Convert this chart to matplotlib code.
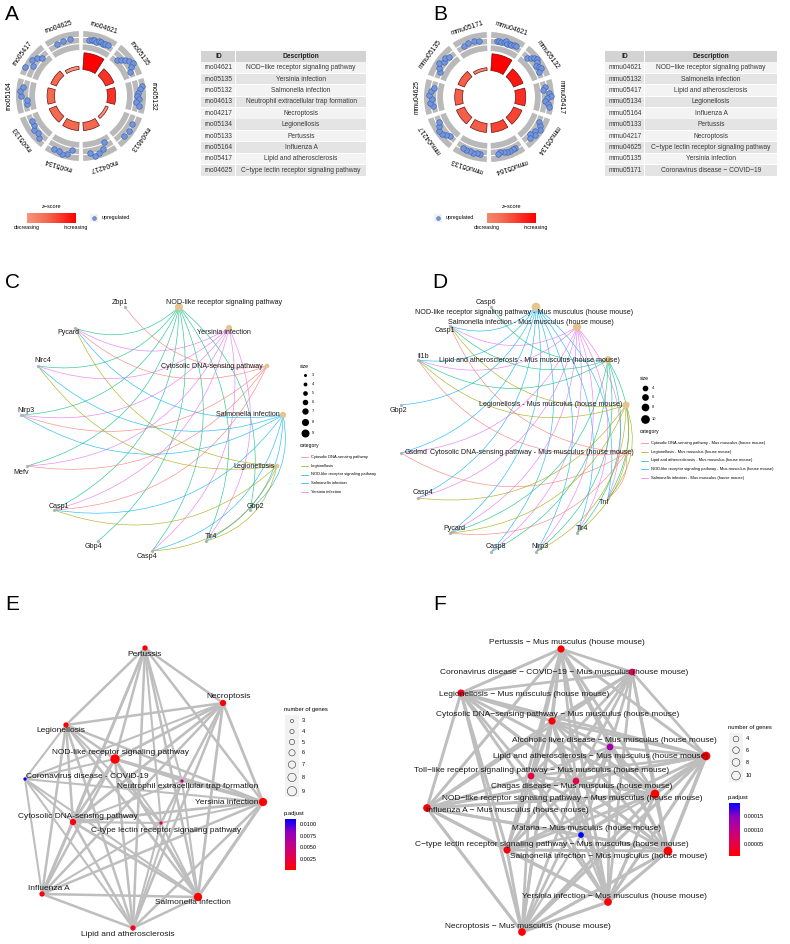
import numpy as np
import matplotlib.pyplot as plt
from matplotlib.colors import LinearSegmentedColormap, ListedColormap, Normalize
from matplotlib.cm import ScalarMappable
from matplotlib.patches import Rectangle, PathPatch
from matplotlib.path import Path

plt.rcParams['font.family'] = ['Liberation Sans', 'DejaVu Sans']

W, H = 790, 944
M = '\u2212'

# ---------------- A / B : GOCircle + tables ----------------
a_ids = ['rno04621', 'rno05135', 'rno05132', 'rno04613', 'rno04217',
         'rno05134', 'rno05133', 'rno05164', 'rno05417', 'rno04625']
a_desc = ['NOD' + M + 'like receptor signaling pathway', 'Yersinia infection',
          'Salmonella infection', 'Neutrophil extracellular trap formation',
          'Necroptosis', 'Legionellosis', 'Pertussis', 'Influenza A',
          'Lipid and atherosclerosis', 'C' + M + 'type lectin receptor signaling pathway']
a_neglogp = [5.6, 3.7, 3.5, 2.2, 3.5, 3.5, 3.4, 3.3, 3.0, 2.3]
a_logfc = [[2.2, 2.3, 2.3, 2.2, 2.4, 2.3, 2.2, 2.3, 2.4],
           [1.6, 1.9, 2.2, 2.5, 2.8, 2.4, 2.0],
           [2.8, 2.6, 2.3, 2.2, 2.4, 2.1, 2.5],
           [2.4, 2.6, 2.5],
           [1.6, 2.3, 2.6, 2.8, 2.4],
           [2.0, 2.6, 2.7, 2.5, 2.6],
           [2.6, 2.2, 2.4, 2.0, 2.1],
           [2.0, 1.9, 2.6, 2.7, 2.5],
           [2.9, 2.2, 2.7, 2.4, 2.0],
           [2.3, 2.4, 2.4]]

b_ids = ['mmu04621', 'mmu05132', 'mmu05417', 'mmu05134', 'mmu05164',
         'mmu05133', 'mmu04217', 'mmu04625', 'mmu05135', 'mmu05171']
b_desc = ['NOD' + M + 'like receptor signaling pathway', 'Salmonella infection',
          'Lipid and atherosclerosis', 'Legionellosis', 'Influenza A', 'Pertussis',
          'Necroptosis', 'C' + M + 'type lectin receptor signaling pathway',
          'Yersinia infection', 'Coronavirus disease ' + M + ' COVID' + M + '19']
b_neglogp = [5.6, 4.0, 4.0, 3.7, 3.7, 3.7, 3.6, 3.4, 3.2, 2.2]
b_logfc = [[2.2, 2.3, 2.2, 2.3, 2.4, 2.2, 2.3, 2.2, 2.3, 2.4],
           [2.0, 2.3, 2.6, 2.8, 2.5, 2.2, 2.4, 2.6, 2.1],
           [2.3, 2.0, 2.6, 2.8, 2.4, 2.2, 2.5, 2.7],
           [2.2, 2.5, 2.7, 2.3, 2.6, 2.1, 2.4],
           [2.3, 2.3, 2.4, 2.4, 2.3, 2.2, 2.4],
           [2.3, 2.3, 2.4, 2.3, 2.4, 2.3],
           [2.0, 2.3, 2.6, 2.7, 2.4, 2.2],
           [2.2, 2.5, 2.3, 2.6, 2.4, 2.1],
           [2.0, 2.4, 2.7, 2.3, 2.5, 2.2],
           [2.3, 2.4, 2.4, 2.3]]

# ---------------- C : cnetplot (rat) ----------------
c_terms = ['NOD-like receptor signaling pathway', 'Yersinia infection',
           'Cytosolic DNA-sensing pathway', 'Salmonella infection', 'Legionellosis']
c_term_x = [179, 229, 267, 283, 277]
c_term_y = [307, 328, 366, 415, 466]
c_term_n = [9, 7, 5, 7, 5]
c_term_off = [(45, -5), (-5, 5), (-55, 1), (-35, 0), (-23, 0)]
c_genes = ['Zbp1', 'Pycard', 'Nlrc4', 'Nlrp3', 'Mefv', 'Casp1', 'Gbp4', 'Casp4', 'Tlr4', 'Gbp2']
c_gene_x = [125, 75, 38, 21, 27, 54, 98, 152, 206, 250]
c_gene_y = [307, 328, 366, 415, 466, 510, 541, 551, 541, 510]
c_gene_off = [(-5, -5), (-7, 5), (5, -5), (5, -5), (-6, 6), (5, -4), (-5, 6), (-5, 6), (5, -5), (5, -4)]
c_members = {
    'NOD-like receptor signaling pathway': ['Pycard', 'Nlrc4', 'Nlrp3', 'Mefv', 'Casp1', 'Gbp4', 'Casp4', 'Tlr4', 'Gbp2'],
    'Yersinia infection': ['Pycard', 'Nlrc4', 'Nlrp3', 'Mefv', 'Casp1', 'Tlr4', 'Casp4'],
    'Cytosolic DNA-sensing pathway': ['Zbp1', 'Pycard', 'Casp1', 'Nlrp3', 'Mefv'],
    'Salmonella infection': ['Pycard', 'Nlrc4', 'Nlrp3', 'Casp1', 'Casp4', 'Tlr4', 'Gbp2'],
    'Legionellosis': ['Pycard', 'Nlrc4', 'Casp1', 'Tlr4', 'Casp4'],
}
c_categories = ['Cytosolic DNA-sensing pathway', 'Legionellosis',
                'NOD-like receptor signaling pathway', 'Salmonella infection', 'Yersinia infection']

# ---------------- D : cnetplot (mouse) ----------------
MM = ' - Mus musculus (house mouse)'
d_terms = ['NOD-like receptor signaling pathway' + MM, 'Salmonella infection' + MM,
           'Lipid and atherosclerosis' + MM, 'Legionellosis' + MM, 'Cytosolic DNA-sensing pathway' + MM]
d_term_x = [536, 577, 608, 626, 626]
d_term_y = [307, 327, 360, 405, 453]
d_term_n = [10, 9, 8, 7, 5]
d_term_off = [(-12, 5), (-46, -5), (-79, 0), (-75, 0), (-94, 0)]
d_genes = ['Casp6', 'Casp1', 'Il1b', 'Gbp2', 'Gsdmd', 'Casp4', 'Pycard', 'Casp8', 'Nlrp3', 'Tlr4', 'Tnf']
d_gene_x = [491, 450, 418, 401, 401, 418, 450, 491, 536, 577, 608]
d_gene_y = [307, 326, 360, 405, 453, 498, 533, 552, 552, 533, 498]
d_gene_off = [(-5, -5), (-5, 5), (5, -4), (-3, 5), (15, 0), (5, -5), (4, -5), (5, -5), (4, -5), (5, -5), (-4, 5)]
d_members = {
    d_terms[0]: ['Casp1', 'Il1b', 'Gbp2', 'Gsdmd', 'Casp4', 'Pycard', 'Casp8', 'Nlrp3', 'Tnf', 'Tlr4'],
    d_terms[1]: ['Casp1', 'Il1b', 'Gsdmd', 'Casp4', 'Pycard', 'Casp8', 'Nlrp3', 'Tnf', 'Tlr4'],
    d_terms[2]: ['Casp6', 'Casp1', 'Il1b', 'Pycard', 'Casp8', 'Nlrp3', 'Tnf', 'Tlr4'],
    d_terms[3]: ['Casp1', 'Il1b', 'Casp4', 'Pycard', 'Nlrp3', 'Tnf', 'Tlr4'],
    d_terms[4]: ['Casp1', 'Il1b', 'Pycard', 'Gsdmd', 'Tnf'],
}
d_categories = ['Cytosolic DNA-sensing pathway' + MM, 'Legionellosis' + MM,
                'Lipid and atherosclerosis' + MM, 'NOD-like receptor signaling pathway' + MM,
                'Salmonella infection' + MM]

cat_colors = ['#F8766D', '#A3A500', '#00BF7D', '#00B0F6', '#E76BF3']

# ---------------- E : emapplot (rat) ----------------
e_names = ['Pertussis', 'Necroptosis', 'Legionellosis', 'NOD-like receptor signaling pathway',
           'Coronavirus disease - COVID-19', 'Neutrophil extracellular trap formation',
           'Yersinia infection', 'Cytosolic DNA-sensing pathway',
           'C-type lectin receptor signaling pathway', 'Influenza A',
           'Salmonella infection', 'Lipid and atherosclerosis']
e_x = [145, 223, 66, 115, 25, 182, 263, 73, 161, 42, 198, 133]
e_y = [648, 703, 725, 759, 779, 781, 802, 822, 823, 894, 897, 928]
e_count = [5, 6, 5, 9, 3, 3, 8, 6, 3, 5, 8, 5]
e_padj = [0.0003, 0.0004, 0.0003, 0.00015, 0.0111, 0.0052, 0.0002, 0.0006, 0.0034, 0.0008, 0.0002, 0.0009]
e_off = [(0, 7), (6, -6), (-5, 6), (5, -6), (62, -3), (6, 6), (-36, 0), (5, -6), (5, 7), (7, -6), (-5, 6), (-5, 6)]
e_missing = [(0, 4), (5, 9), (8, 4), (2, 5), (4, 5)]

# ---------------- F : emapplot (mouse) ----------------
FM = ' ' + M + ' Mus musculus (house mouse)'
f_terms = ['Pertussis', 'Coronavirus disease ' + M + ' COVID' + M + '19', 'Legionellosis',
           'Cytosolic DNA' + M + 'sensing pathway', 'Alcoholic liver disease',
           'Lipid and atherosclerosis', 'Toll' + M + 'like receptor signaling pathway',
           'Chagas disease', 'NOD' + M + 'like receptor signaling pathway', 'Influenza A',
           'Malaria', 'C' + M + 'type lectin receptor signaling pathway',
           'Salmonella infection', 'Yersinia infection', 'Necroptosis']
f_x = [561, 632, 461, 552, 610, 706, 531, 576, 655, 427, 581, 507, 668, 608, 522]
f_y = [649, 672, 693, 721, 747, 756, 776, 781, 794, 808, 835, 850, 851, 902, 932]
f_count = [7, 6, 7, 7, 6, 10, 6, 6, 10, 8, 4, 7, 10, 8, 8]
f_padj = [8e-6, 6e-5, 2.5e-5, 1e-5, 1.3e-4, 1e-5, 5e-5, 5e-5, 7e-6, 1.2e-5, 1.96e-4, 1.5e-5, 7e-6, 1e-5, 1e-5]
f_off = [(6, -6), (-68, 1), (63, 1), (6, -6), (4, -6), (-106, 1), (11, -6), (6, 6), (-83, 5),
         (80, 2), (6, -6), (45, -6), (-59, 6), (6, -6), (6, -6)]
f_missing = [(10, 0), (10, 1), (10, 2), (4, 9), (4, 2), (1, 14)]

# ======================================================================
fig = plt.figure(figsize=(W / 100, H / 100), dpi=100)
canvas = fig.add_axes([0, 0, 1, 1])
canvas.set_xlim(0, W)
canvas.set_ylim(H, 0)
canvas.set_autoscale_on(False)
canvas.axis('off')


def px_axes(x0, y0, x1, y1, **kw):
    return fig.add_axes([x0 / W, 1 - y1 / H, (x1 - x0) / W, (y1 - y0) / H], **kw)


def dpx(n, lo, hi, dlo, dhi):
    return dlo + (np.asarray(n, float) - lo) / (hi - lo) * (dhi - dlo)


def s_of(d):
    return (np.asarray(d) * 0.72) ** 2


zcmap = LinearSegmentedColormap.from_list(
    'z', [(0, '#FFFFFF'), (0.45, '#FBB3A0'), (0.75, '#F26A50'), (1, '#FF0000')])


def go_circle(cx, cy, ids, neglogp, logfc):
    R = 85
    ax = px_axes(cx - R, cy - R, cx + R, cy + R, projection='polar')
    ax.set_theta_zero_location('N')
    ax.set_theta_direction(-1)
    ax.set_rlim(0, R)
    ax.axis('off')
    ax.patch.set_alpha(0)
    n = len(ids)
    seg = 360 / n
    cen = np.deg2rad(np.arange(n) * seg + seg / 2)
    z = np.sqrt([len(v) for v in logfc])
    ax.bar(cen, 19, width=np.deg2rad(seg - 4), bottom=46, color='#B9B9B9', lw=0)
    t = np.linspace(0, 2 * np.pi, 361)
    for r in (52.3, 58.7):
        ax.plot(t, np.full_like(t, r), color='white', lw=0.8)
    ax.bar(cen, (np.array(neglogp) - 1.5) * 4.1, width=np.deg2rad(seg - 8), bottom=26.5,
           color=zcmap(z / z.max()), edgecolor='#6B1010', lw=0.5)
    for i, vals in enumerate(logfc):
        k = len(vals)
        th = np.deg2rad(i * seg + 7 + (np.arange(k) + 0.5) / k * (seg - 14))
        r = 46 + (np.array(vals) - 1.0) / 2.2 * 19
        ax.scatter(th, r, s=16, color='#7295DC', edgecolor='#3E62B4', lw=0.45, zorder=3)
        ang = i * seg + seg / 2
        ax.text(np.deg2rad(ang), 72, ids[i], rotation=-ang, rotation_mode='anchor',
                ha='center', va='center', fontsize=4.9, color='black')
    return z


def go_table(x0, xm, x1, y0, ids, desc):
    rh = 11.4
    rows = [('ID', 'Description')] + list(zip(ids, desc))
    for i, (a, b) in enumerate(rows):
        y = y0 + i * rh
        fc = '#D3D3D3' if i == 0 else ('#F3F3F3' if i % 2 else '#E4E4E4')
        canvas.add_patch(Rectangle((x0, y), xm - x0 - 0.8, rh - 0.8, fc=fc, lw=0))
        canvas.add_patch(Rectangle((xm, y), x1 - xm, rh - 0.8, fc=fc, lw=0))
        fw = 'bold' if i == 0 else 'normal'
        col = '#222222' if i == 0 else '#3A3A3A'
        canvas.text((x0 + xm) / 2, y + rh / 2 - 0.4, a, ha='center', va='center', fontsize=4.8,
                    fontweight=fw, color=col)
        canvas.text((xm + x1) / 2, y + rh / 2 - 0.4, b, ha='center', va='center', fontsize=4.8,
                    fontweight=fw, color=col)


def z_legend(x0, z):
    cax = px_axes(x0, 213, x0 + 49, 223)
    cm = ListedColormap(zcmap(np.linspace(z.min() / z.max(), 1, 256)))
    cb = fig.colorbar(ScalarMappable(Normalize(z.min(), z.max()), cm), cax=cax,
                      orientation='horizontal')
    cb.outline.set_visible(False)
    cb.set_ticks([z.min(), z.max()], labels=['decreasing', 'increasing'])
    cax.tick_params(length=0, labelsize=3.8, pad=1.5)
    canvas.text(x0 + 24.5, 207, 'z' + M + 'score', ha='center', va='center', fontsize=4)


def up_legend(x):
    canvas.add_patch(Rectangle((x - 4, 214), 8, 8, fc='#F0F0F0', lw=0))
    canvas.scatter([x], [218], s=8, color='#7295DC', edgecolor='#3E62B4', lw=0.3)
    canvas.text(x + 8, 218, 'upregulated', ha='left', va='center', fontsize=3.8)


za = go_circle(81, 96, a_ids, a_neglogp, a_logfc)
zb = go_circle(489, 97, b_ids, b_neglogp, b_logfc)
go_table(201, 236, 366, 51, a_ids, a_desc)
go_table(605, 645, 777, 51, b_ids, b_desc)
z_legend(27, za)
up_legend(94)
z_legend(487, zb)
up_legend(438)


def arc(p0, p1, color, k=0.3):
    p0, p1 = np.array(p0, float), np.array(p1, float)
    d = p1 - p0
    ctrl = (p0 + p1) / 2 + k * np.array([-d[1], d[0]])
    path = Path([p0, ctrl, p1], [Path.MOVETO, Path.CURVE3, Path.CURVE3])
    canvas.add_patch(PathPatch(path, fill=False, ec=color, lw=0.45, alpha=0.85, zorder=1))


def cnet(terms, tx, ty, tn, toff, genes, gx, gy, goff, members, cats, scale, fs):
    for ti, t in enumerate(terms):
        col = cat_colors[cats.index(t)]
        for g in members[t]:
            gi = genes.index(g)
            arc((gx[gi], gy[gi]), (tx[ti], ty[ti]), col)
    canvas.scatter(tx, ty, s=s_of(dpx(tn, *scale)), color='#E5C494', lw=0, zorder=2)
    canvas.scatter(gx, gy, s=s_of(3.2), color='#B3B3B3', lw=0, zorder=2)
    for i, t in enumerate(terms):
        canvas.text(tx[i] + toff[i][0], ty[i] + toff[i][1], t, ha='center', va='center',
                    fontsize=fs, color='#1A1A1A', zorder=3)
    for i, g in enumerate(genes):
        canvas.text(gx[i] + goff[i][0], gy[i] + goff[i][1], g, ha='center', va='center',
                    fontsize=fs, color='#1A1A1A', zorder=3)


def cnet_legend(x, y, sizes, scale, gap, ycat, cats):
    canvas.text(x, y, 'size', ha='left', va='center', fontsize=3.6)
    d = dpx(sizes, *scale)
    yy = y + 9
    for i, s in enumerate(sizes):
        if i:
            yy += max(9, (d[i] + d[i - 1]) / 2 + gap)
        canvas.scatter([x + 5], [yy], s=s_of(d[i]), color='black', lw=0)
        canvas.text(x + 12, yy, str(s), ha='left', va='center', fontsize=2.8)
    canvas.text(x, ycat, 'category', ha='left', va='center', fontsize=3.6)
    for i, c in enumerate(cats):
        yc = ycat + 11 + i * 8.75
        canvas.plot([x + 1, x + 8], [yc, yc], color=cat_colors[i], lw=0.5)
        canvas.text(x + 11, yc, c, ha='left', va='center', fontsize=2.9)


c_scale = (3, 9, 3.0, 8.0)
d_scale = (4, 10, 5.7, 8.7)
cnet(c_terms, c_term_x, c_term_y, c_term_n, c_term_off, c_genes, c_gene_x, c_gene_y,
     c_gene_off, c_members, c_categories, c_scale, 5.1)
cnet_legend(300, 366, [3, 4, 5, 6, 7, 8, 9], c_scale, 3.5, 446, c_categories)
cnet(d_terms, d_term_x, d_term_y, d_term_n, d_term_off, d_genes, d_gene_x, d_gene_y,
     d_gene_off, d_members, d_categories, d_scale, 5.1)
cnet_legend(640, 379, [4, 6, 8, 10], d_scale, 3, 432, d_categories)

pcmap = LinearSegmentedColormap.from_list(
    'p', ['#FF0000', '#E4004E', '#C0008A', '#8E00C0', '#0000FF'])


def emap(names, x, y, count, padj, off, missing, norm, scale, fs):
    d = dpx(count, *scale)
    miss = set(missing) | {(j, i) for i, j in missing}
    n = len(names)
    for i in range(n):
        for j in range(i + 1, n):
            if (i, j) in miss:
                continue
            lw = 1.0 + 0.16 * min(count[i], count[j])
            canvas.plot([x[i], x[j]], [y[i], y[j]], color='#BEBEBE', lw=lw, zorder=1,
                        solid_capstyle='round')
    canvas.scatter(x, y, s=s_of(d), c=padj, cmap=pcmap, norm=norm, lw=0, zorder=2)
    for i, t in enumerate(names):
        canvas.text(x[i] + off[i][0], y[i] + off[i][1], t, ha='center', va='center',
                    fontsize=fs, color='#1A1A1A', zorder=3)


def emap_legend(x, y, sizes, scale, gap, ycb, cb_h, norm, ticks, labels):
    canvas.text(x, y, 'number of genes', ha='left', va='center', fontsize=4.2)
    d = dpx(sizes, *scale)
    ys = [y + 11]
    for i in range(1, len(sizes)):
        ys.append(ys[-1] + max(10.5, (d[i] + d[i - 1]) / 2 + gap))
    canvas.add_patch(Rectangle((x + 1, ys[0] - 6), 14, ys[-1] - ys[0] + 12, fc='#F2F2F2', lw=0))
    for yy, dd, s in zip(ys, d, sizes):
        canvas.scatter([x + 8], [yy], s=s_of(dd), facecolor='none', edgecolor='#333333', lw=0.4)
        canvas.text(x + 18, yy, str(s), ha='left', va='center', fontsize=4)
    canvas.text(x, ycb - 6, 'p.adjust', ha='left', va='center', fontsize=4.2)
    cax = px_axes(x + 1, ycb, x + 12, ycb + cb_h)
    cb = fig.colorbar(ScalarMappable(norm, pcmap), cax=cax)
    cb.outline.set_visible(False)
    cb.set_ticks(ticks, labels=labels)
    cax.tick_params(length=0, labelsize=4, pad=3)


e_norm = Normalize(0.00015, 0.0111)
f_norm = Normalize(7e-6, 1.96e-4)
emap(e_names, e_x, e_y, e_count, e_padj, e_off, e_missing, e_norm, (3, 9, 3.3, 9.3), 6.0)
emap_legend(284, 710, [3, 4, 5, 6, 7, 8, 9], (3, 9, 3.3, 9.3), 5, 819, 51, e_norm,
            [0.0025, 0.005, 0.0075, 0.01], ['0.0025', '0.0050', '0.0075', '0.0100'])
emap([t + FM for t in f_terms], f_x, f_y, f_count, f_padj, f_off, f_missing, f_norm,
     (4, 10, 5.7, 8.7), 6.0)
emap_legend(728, 728, [4, 6, 8, 10], (4, 10, 5.7, 8.7), 5, 803, 53, f_norm,
            [5e-5, 1e-4, 1.5e-4], ['0.00005', '0.00010', '0.00015'])

for lab, lx, ly in [('A', 12, 15), ('B', 440, 15), ('C', 12, 283),
                    ('D', 440, 283), ('E', 12, 605), ('F', 440, 605)]:
    canvas.text(lx, ly, lab, ha='center', va='center', fontsize=15)

fig.savefig('out.png', dpi=100)
